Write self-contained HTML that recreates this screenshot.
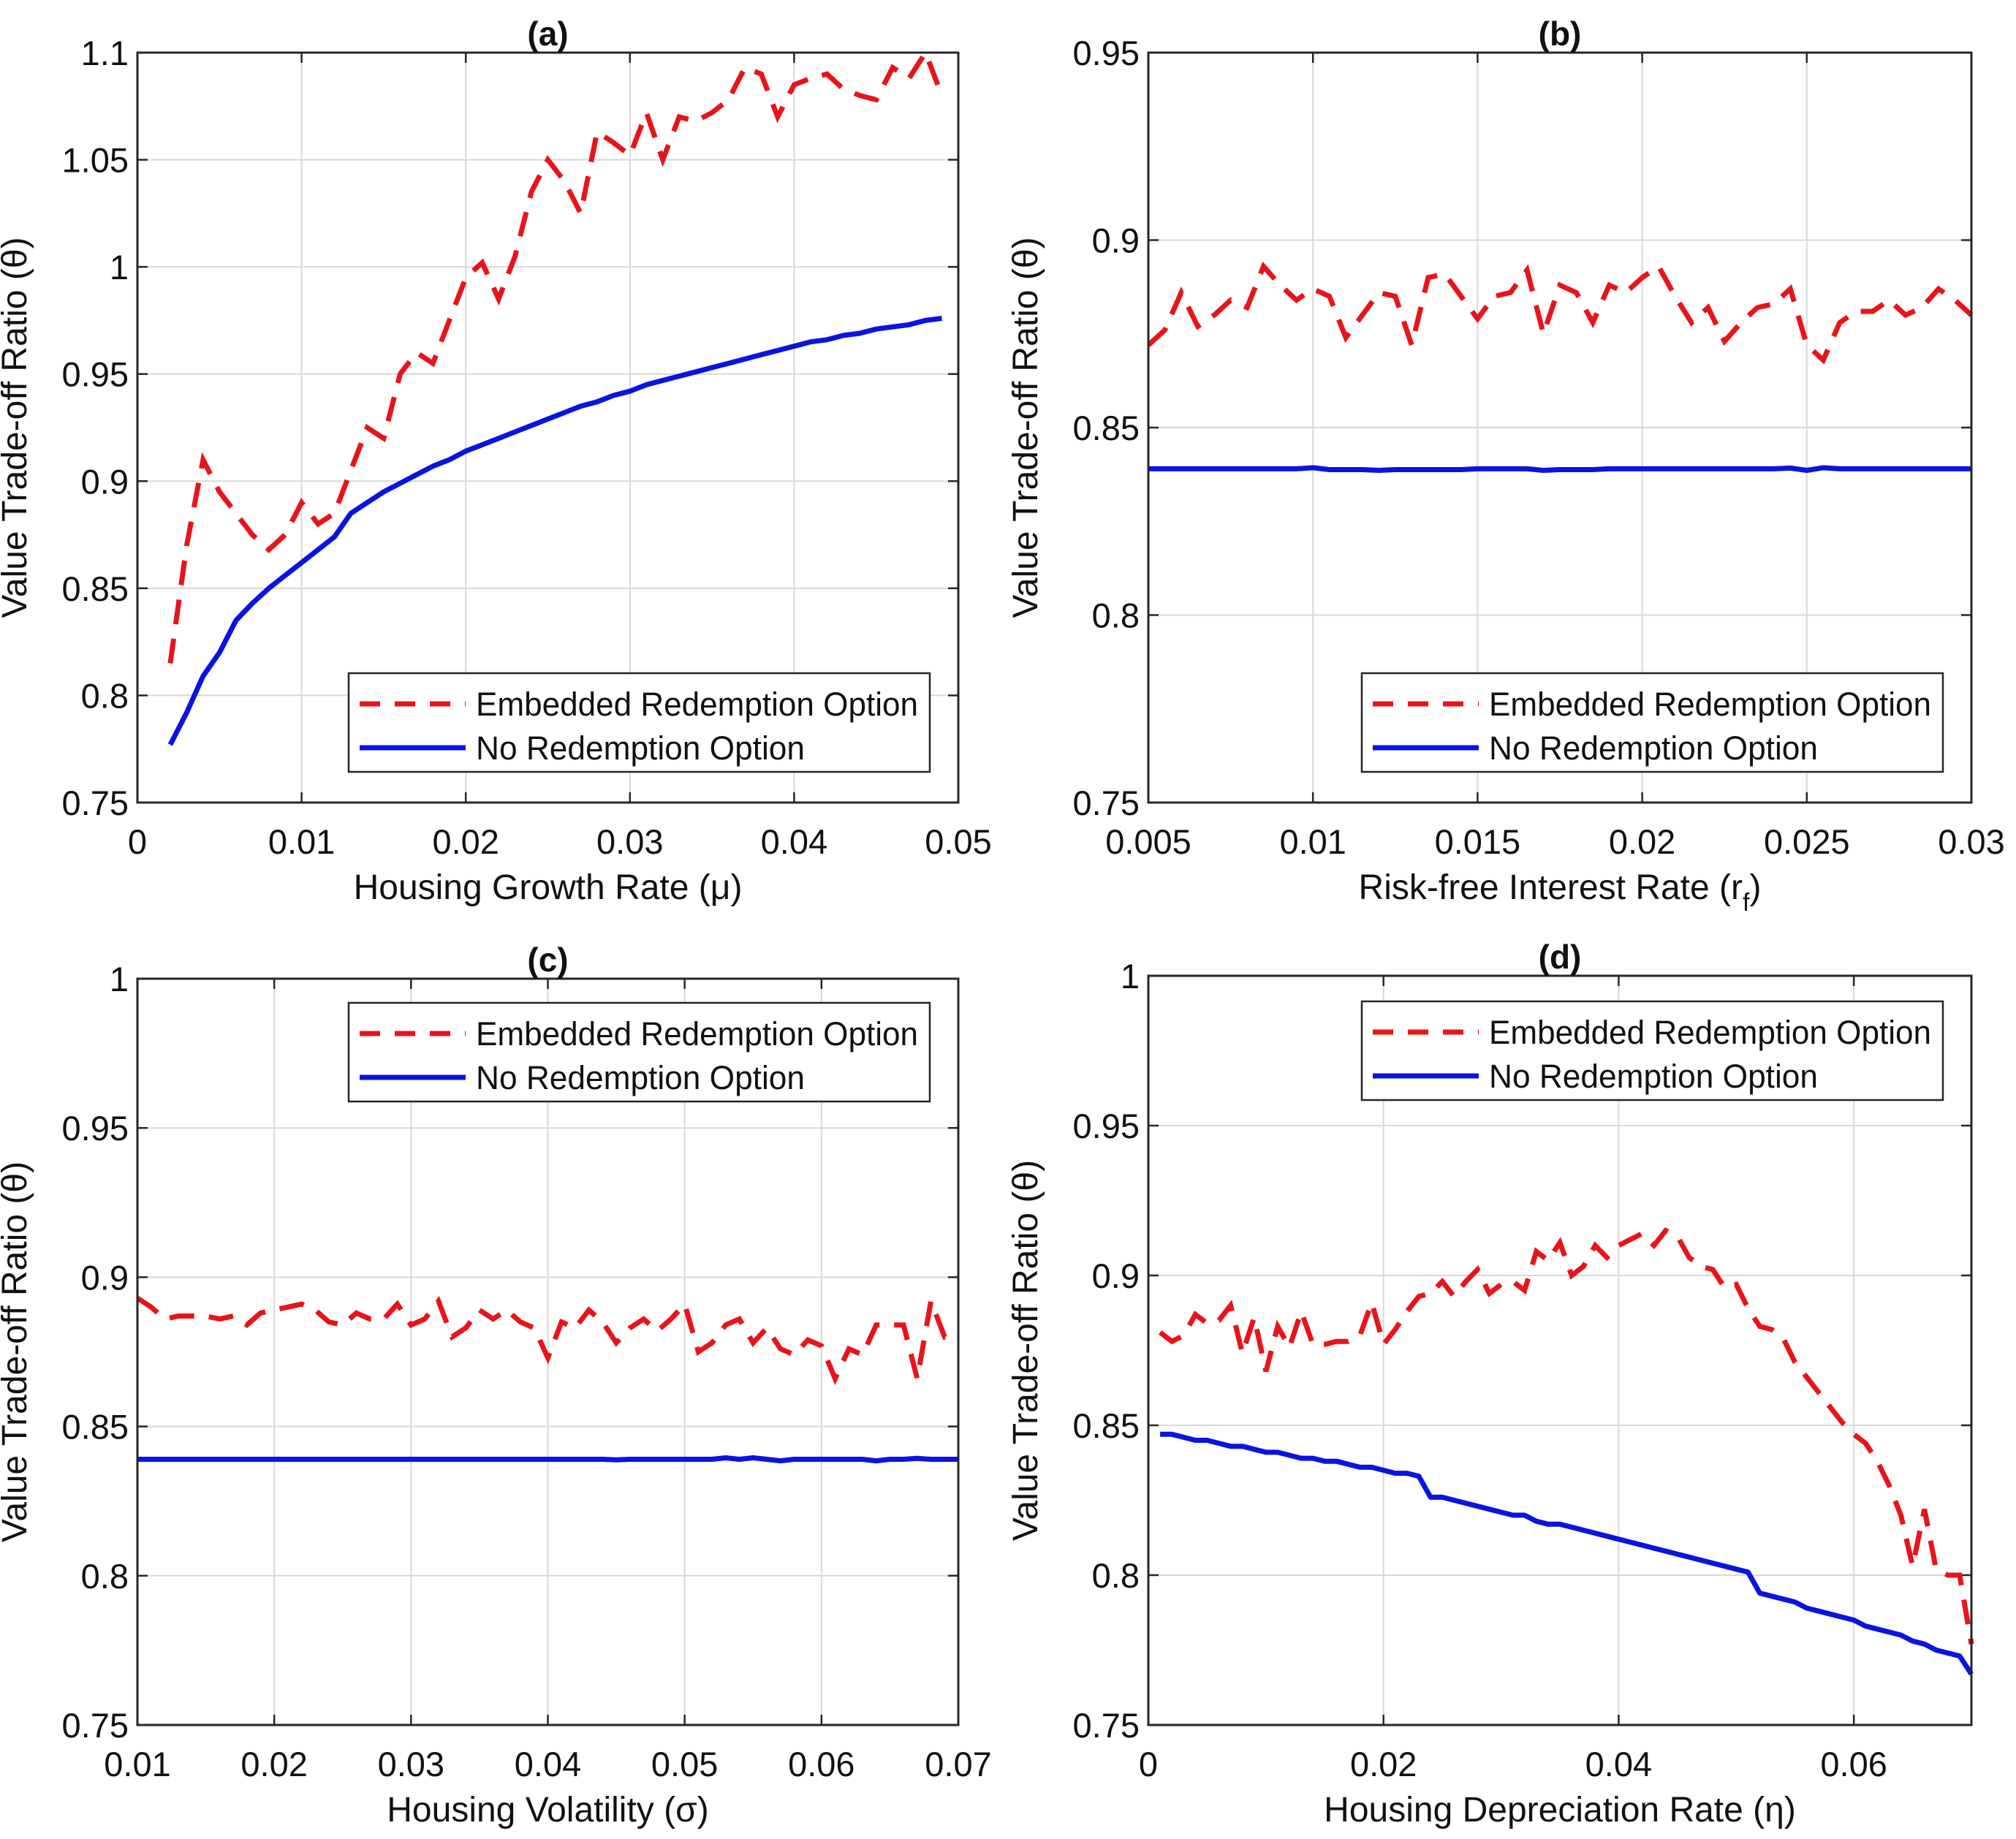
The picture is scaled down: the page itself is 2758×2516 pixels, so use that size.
<!DOCTYPE html>
<html><head><meta charset="utf-8">
<style>
html,body{margin:0;padding:0;background:#fff;}
svg{display:block;font-family:"Liberation Sans",Arial,sans-serif;}
</style></head>
<body>
<svg id="fig" width="2758" height="2516" viewBox="0 0 2758 2516" xmlns="http://www.w3.org/2000/svg"></svg>
<script>
// ---- Panel (a) data ----
const aX = [0.002,0.003,0.004,0.005,0.006,0.007,0.008,0.009,0.010,0.011,0.012,0.013,0.014,0.015,0.016,0.017,0.018,0.019,0.020,0.021,0.022,0.023,0.024,0.025,0.026,0.027,0.028,0.029,0.030,0.031,0.032,0.033,0.034,0.035,0.036,0.037,0.038,0.039,0.040,0.041,0.042,0.043,0.044,0.045,0.046,0.047,0.048,0.049];
const aRed = [0.815,0.87,0.91,0.895,0.885,0.875,0.868,0.875,0.89,0.88,0.885,0.905,0.925,0.92,0.95,0.96,0.955,0.975,0.995,1.002,0.985,1.005,1.035,1.05,1.04,1.025,1.063,1.058,1.052,1.072,1.05,1.07,1.068,1.072,1.078,1.093,1.09,1.07,1.085,1.088,1.09,1.083,1.08,1.078,1.093,1.088,1.1,1.08];
const aBlue = [0.777,0.792,0.809,0.82,0.835,0.843,0.85,0.856,0.862,0.868,0.874,0.885,0.89,0.895,0.899,0.903,0.907,0.91,0.914,0.917,0.92,0.923,0.926,0.929,0.932,0.935,0.937,0.94,0.942,0.945,0.947,0.949,0.951,0.953,0.955,0.957,0.959,0.961,0.963,0.965,0.966,0.968,0.969,0.971,0.972,0.973,0.975,0.976];
const aXTicks = [0,0.01,0.02,0.03,0.04,0.05];
const aXTickLabels = ["0","0.01","0.02","0.03","0.04","0.05"];
const aYTicks = [0.75,0.8,0.85,0.9,0.95,1,1.05,1.1];
const aYTickLabels = ["0.75","0.8","0.85","0.9","0.95","1","1.05","1.1"];

// ---- Panel (b) data ----
const bX = [0.005,0.0055,0.006,0.0065,0.007,0.0075,0.008,0.0085,0.009,0.0095,0.010,0.0105,0.011,0.0115,0.012,0.0125,0.013,0.0135,0.014,0.0145,0.015,0.0155,0.016,0.0165,0.017,0.0175,0.018,0.0185,0.019,0.0195,0.020,0.0205,0.021,0.0215,0.022,0.0225,0.023,0.0235,0.024,0.0245,0.025,0.0255,0.026,0.0265,0.027,0.0275,0.028,0.0285,0.029,0.0295,0.030];
const bRed = [0.872,0.876,0.886,0.877,0.88,0.884,0.882,0.893,0.888,0.884,0.887,0.885,0.874,0.88,0.886,0.885,0.872,0.89,0.891,0.885,0.879,0.885,0.886,0.892,0.875,0.888,0.886,0.878,0.888,0.886,0.89,0.893,0.885,0.878,0.882,0.873,0.878,0.882,0.883,0.887,0.872,0.868,0.878,0.881,0.881,0.884,0.88,0.882,0.887,0.884,0.88];
const bBlue = [0.839,0.839,0.839,0.839,0.839,0.839,0.839,0.839,0.839,0.839,0.8393,0.8388,0.8388,0.8388,0.8386,0.8388,0.8388,0.8388,0.8388,0.8388,0.839,0.839,0.839,0.839,0.8386,0.8388,0.8388,0.8388,0.839,0.839,0.839,0.839,0.839,0.839,0.839,0.839,0.839,0.839,0.839,0.8392,0.8386,0.8393,0.839,0.839,0.839,0.839,0.839,0.839,0.839,0.839,0.839];
const bXTicks = [0.005,0.01,0.015,0.02,0.025,0.03];
const bXTickLabels = ["0.005","0.01","0.015","0.02","0.025","0.03"];
const bYTicks = [0.75,0.8,0.85,0.9,0.95];
const bYTickLabels = ["0.75","0.8","0.85","0.9","0.95"];

// ---- Panel (c) data ----
const cX = [0.010,0.011,0.012,0.013,0.014,0.015,0.016,0.017,0.018,0.019,0.020,0.021,0.022,0.023,0.024,0.025,0.026,0.027,0.028,0.029,0.030,0.031,0.032,0.033,0.034,0.035,0.036,0.037,0.038,0.039,0.040,0.041,0.042,0.043,0.044,0.045,0.046,0.047,0.048,0.049,0.050,0.051,0.052,0.053,0.054,0.055,0.056,0.057,0.058,0.059,0.060,0.061,0.062,0.063,0.064,0.065,0.066,0.067,0.068,0.069,0.070];
const cRed = [0.893,0.89,0.886,0.887,0.887,0.887,0.886,0.887,0.884,0.888,0.889,0.89,0.891,0.889,0.885,0.884,0.888,0.886,0.886,0.891,0.884,0.886,0.892,0.88,0.883,0.889,0.886,0.889,0.885,0.883,0.873,0.885,0.883,0.889,0.885,0.878,0.883,0.886,0.882,0.886,0.891,0.875,0.878,0.884,0.886,0.878,0.883,0.876,0.874,0.879,0.877,0.866,0.876,0.874,0.884,0.884,0.884,0.866,0.892,0.88,0.881];
const cBlue = [0.839,0.839,0.839,0.839,0.839,0.839,0.839,0.839,0.839,0.839,0.839,0.839,0.839,0.839,0.839,0.839,0.839,0.839,0.839,0.839,0.839,0.839,0.839,0.839,0.839,0.839,0.839,0.839,0.839,0.839,0.839,0.839,0.839,0.839,0.839,0.8388,0.839,0.839,0.839,0.839,0.839,0.839,0.839,0.8395,0.839,0.8395,0.839,0.8385,0.839,0.839,0.839,0.839,0.839,0.839,0.8385,0.839,0.839,0.8393,0.839,0.839,0.839];
const cXTicks = [0.01,0.02,0.03,0.04,0.05,0.06,0.07];
const cXTickLabels = ["0.01","0.02","0.03","0.04","0.05","0.06","0.07"];
const cYTicks = [0.75,0.8,0.85,0.9,0.95,1];
const cYTickLabels = ["0.75","0.8","0.85","0.9","0.95","1"];

// ---- Panel (d) data ----
const dX = [0.001,0.002,0.003,0.004,0.005,0.006,0.007,0.008,0.009,0.010,0.011,0.012,0.013,0.014,0.015,0.016,0.017,0.018,0.019,0.020,0.021,0.022,0.023,0.024,0.025,0.026,0.027,0.028,0.029,0.030,0.031,0.032,0.033,0.034,0.035,0.036,0.037,0.038,0.039,0.040,0.041,0.042,0.043,0.044,0.045,0.046,0.047,0.048,0.049,0.050,0.051,0.052,0.053,0.054,0.055,0.056,0.057,0.058,0.059,0.060,0.061,0.062,0.063,0.064,0.065,0.066,0.067,0.068,0.069,0.070];
const dRed = [0.881,0.878,0.88,0.887,0.884,0.885,0.89,0.874,0.886,0.868,0.883,0.876,0.888,0.877,0.877,0.878,0.878,0.88,0.891,0.877,0.882,0.888,0.893,0.894,0.898,0.893,0.898,0.902,0.894,0.897,0.898,0.895,0.908,0.905,0.911,0.9,0.903,0.91,0.906,0.91,0.912,0.914,0.91,0.915,0.913,0.906,0.903,0.902,0.896,0.897,0.889,0.883,0.882,0.879,0.871,0.866,0.861,0.856,0.851,0.847,0.844,0.838,0.83,0.82,0.803,0.822,0.802,0.8,0.8,0.777];
const dBlue = [0.847,0.847,0.846,0.845,0.845,0.844,0.843,0.843,0.842,0.841,0.841,0.840,0.839,0.839,0.838,0.838,0.837,0.836,0.836,0.835,0.834,0.834,0.833,0.826,0.826,0.825,0.824,0.823,0.822,0.821,0.820,0.820,0.818,0.817,0.817,0.816,0.815,0.814,0.813,0.812,0.811,0.810,0.809,0.808,0.807,0.806,0.805,0.804,0.803,0.802,0.801,0.794,0.793,0.792,0.791,0.789,0.788,0.787,0.786,0.785,0.783,0.782,0.781,0.780,0.778,0.777,0.775,0.774,0.773,0.767];
const dXTicks = [0,0.02,0.04,0.06];
const dXTickLabels = ["0","0.02","0.04","0.06"];
const dYTicks = [0.75,0.8,0.85,0.9,0.95,1];
const dYTickLabels = ["0.75","0.8","0.85","0.9","0.95","1"];

const NS = "http://www.w3.org/2000/svg";
const svg = document.getElementById('fig');
function mk(tag, attrs, parent, text){
  const e = document.createElementNS(NS, tag);
  for (const k in attrs) e.setAttribute(k, attrs[k]);
  if (text !== undefined) e.textContent = text;
  (parent || svg).appendChild(e);
  return e;
}

function panel(o){
  const g = mk('g', {});
  
  
  const L=o.L, R=o.R, T=o.T, B=o.B;
  const sx = v => L + (v - o.xmin) / (o.xmax - o.xmin) * (R - L);
  const sy = v => B - (v - o.ymin) / (o.ymax - o.ymin) * (B - T);
  mk('rect', {x:L, y:T, width:R-L, height:B-T, fill:'#fff'}, g);
  o.xt.forEach((v,i) => {
    const x = sx(v);
    const gl = mk('line', {x1:x, x2:x, y1:T, y2:B, stroke:'#d8d8d8', 'stroke-width':2}, g);
    
    
    mk('line', {x1:x, x2:x, y1:B, y2:B-14, stroke:'#262626', 'stroke-width':2.5}, g);
    mk('line', {x1:x, x2:x, y1:T, y2:T+14, stroke:'#262626', 'stroke-width':2.5}, g);
    const t = mk('text', {x:x, y:B+70, 'font-size':47, 'text-anchor':'middle', fill:'#111'}, g, o.xl[i]);
    
    
  });
  o.yt.forEach((v,i) => {
    const y = sy(v);
    const gl = mk('line', {x1:L, x2:R, y1:y, y2:y, stroke:'#d8d8d8', 'stroke-width':2}, g);
    
    
    mk('line', {x1:L, x2:L+14, y1:y, y2:y, stroke:'#262626', 'stroke-width':2.5}, g);
    mk('line', {x1:R, x2:R-14, y1:y, y2:y, stroke:'#262626', 'stroke-width':2.5}, g);
    const t = mk('text', {x:L-12, y:y+17, 'font-size':47, 'text-anchor':'end', fill:'#111'}, g, o.yl[i]);
    
    
  });
  const clipId = 'clip-' + o.id;
  const cp = mk('clipPath', {id:clipId}, g);
  mk('rect', {x:L, y:T-4, width:R-L+4, height:B-T+8}, cp);
  const ptsB = o.x.map((v,i) => sx(v).toFixed(1) + ',' + sy(o.blue[i]).toFixed(1)).join(' ');
  const pb = mk('polyline', {points:ptsB, fill:'none', stroke:'#0a14e0', 'stroke-width':7, 'stroke-linejoin':'round', 'clip-path':'url(#'+clipId+')'}, g);
  
  
  const ptsR = o.x.map((v,i) => sx(v).toFixed(1) + ',' + sy(o.red[i]).toFixed(1)).join(' ');
  const pr = mk('polyline', {points:ptsR, fill:'none', stroke:'#e8141a', 'stroke-width':7, 'stroke-dasharray':'34 20', 'clip-path':'url(#'+clipId+')'}, g);
  
  
  mk('rect', {x:L, y:T, width:R-L, height:B-T, fill:'none', stroke:'#262626', 'stroke-width':3}, g);
  const tt = mk('text', {x:(L+R)/2, y:T-10, 'font-size':46, 'font-weight':'bold', 'text-anchor':'middle', fill:'#111'}, g, o.title);
  
  
  const xl = mk('text', {x:(L+R)/2, y:B+132, 'font-size':48, 'text-anchor':'middle', fill:'#111'}, g);
  
  
  mk('tspan', {}, xl, o.xlabel);
  if (o.sub){
    mk('tspan', {dy:16, 'font-size':34}, xl, o.sub);
    mk('tspan', {dy:-16}, xl, ')');
  }
  const yx = L - 152, yc = (T+B)/2;
  const yl = mk('text', {x:yx, y:yc, 'font-size':48, 'text-anchor':'middle', fill:'#111', transform:'rotate(-90 '+yx+' '+yc+')'}, g, 'Value Trade-off Ratio (θ)');
  
  
  const lg = mk('g', {}, g);
  
  
  const lx = o.leg[0], ly = o.leg[1], lw = 795, lh = 135;
  mk('rect', {x:lx, y:ly, width:lw, height:lh, fill:'#fff', stroke:'#262626', 'stroke-width':2.5}, lg);
  const e1 = mk('g', {}, lg);
  
  
  mk('line', {x1:lx+15, x2:lx+160, y1:ly+42, y2:ly+42, stroke:'#e8141a', 'stroke-width':7, 'stroke-dasharray':'28 20'}, e1);
  mk('text', {x:lx+174, y:ly+58, 'font-size':45, fill:'#111', textLength:605, lengthAdjust:'spacingAndGlyphs'}, e1, 'Embedded Redemption Option');
  const e2 = mk('g', {}, lg);
  
  
  mk('line', {x1:lx+15, x2:lx+160, y1:ly+102, y2:ly+102, stroke:'#0a14e0', 'stroke-width':7}, e2);
  mk('text', {x:lx+174, y:ly+118, 'font-size':45, fill:'#111', textLength:450, lengthAdjust:'spacingAndGlyphs'}, e2, 'No Redemption Option');
}

panel({id:'a', title:'(a)', L:188, R:1311, T:72, B:1098, xmin:0, xmax:0.05, ymin:0.75, ymax:1.1,
  x:aX, red:aRed, blue:aBlue, xt:aXTicks, xl:aXTickLabels, yt:aYTicks, yl:aYTickLabels,
  xlabel:'Housing Growth Rate (μ)', leg:[477,921]});
panel({id:'b', title:'(b)', L:1571, R:2697, T:72, B:1098, xmin:0.005, xmax:0.03, ymin:0.75, ymax:0.95,
  x:bX, red:bRed, blue:bBlue, xt:bXTicks, xl:bXTickLabels, yt:bYTicks, yl:bYTickLabels,
  xlabel:'Risk-free Interest Rate (r', sub:'f', leg:[1863,921]});
panel({id:'c', title:'(c)', L:188, R:1311, T:1339, B:2360, xmin:0.01, xmax:0.07, ymin:0.75, ymax:1,
  x:cX, red:cRed, blue:cBlue, xt:cXTicks, xl:cXTickLabels, yt:cYTicks, yl:cYTickLabels,
  xlabel:'Housing Volatility (σ)', leg:[477,1372]});
panel({id:'d', title:'(d)', L:1571, R:2697, T:1335, B:2360, xmin:0, xmax:0.07, ymin:0.75, ymax:1,
  x:dX, red:dRed, blue:dBlue, xt:dXTicks, xl:dXTickLabels, yt:dYTicks, yl:dYTickLabels,
  xlabel:'Housing Depreciation Rate (η)', leg:[1863,1370]});
</script>
</body></html>
